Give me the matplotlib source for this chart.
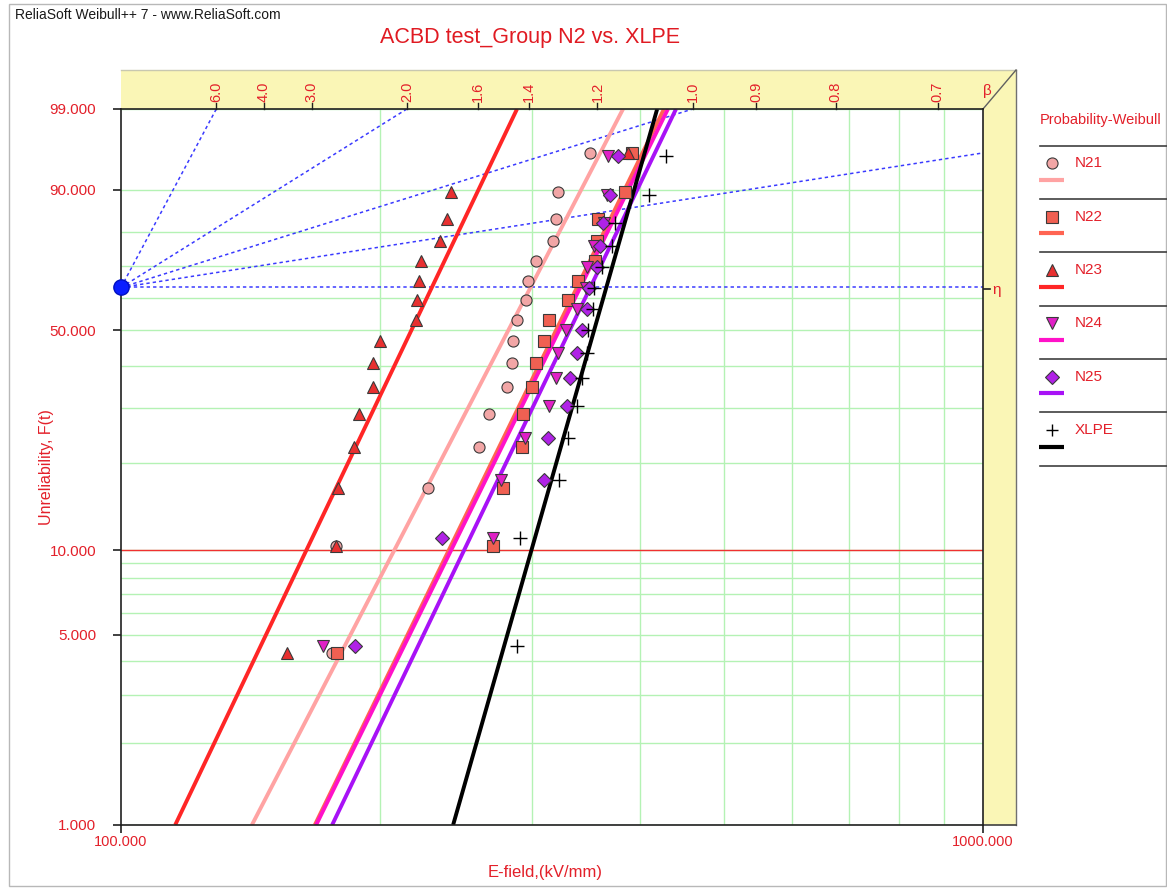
import numpy as np
import matplotlib
matplotlib.use("Agg")
import matplotlib.pyplot as plt
import matplotlib.transforms as mtransforms
from matplotlib.patches import Polygon, Rectangle
from matplotlib.ticker import FixedLocator, NullLocator

plt.rcParams['font.family'] = ['Liberation Sans', 'DejaVu Sans']

# ---- data: breakdown fields (kV/mm), sorted, per group ----
series_names = ['N21', 'N22', 'N23', 'N24', 'N25', 'XLPE']
sample_sizes = [16, 16, 16, 15, 15, 15]

n21_field = [175.6, 177.6, 227.2, 260.4, 267.5, 280.2, 284.4, 285.2, 287.8,
             295.1, 296.4, 303.1, 317.3, 319.6, 321.6, 349.9]
n22_field = [178.2, 269.9, 277.2, 292.1, 292.9, 299.6, 302.8, 309.8, 313.7,
             330.3, 339.3, 354.7, 356.3, 357.8, 384.3, 391.3]
n23_field = [155.7, 177.6, 178.7, 186.4, 189.0, 195.9, 195.9, 199.7, 219.7,
             220.7, 221.5, 222.9, 234.5, 238.7, 241.5, 387.5]
n24_field = [171.7, 269.9, 275.7, 294.3, 314.0, 319.6, 321.6, 328.3, 337.9,
             346.0, 347.0, 354.1, 363.4, 366.6, 367.6]
n25_field = [186.9, 235.5, 309.8, 313.1, 328.9, 331.8, 337.9, 342.4, 347.5,
             349.0, 356.3, 359.5, 362.7, 369.3, 377.6]
xlpe_field = [287.8, 290.4, 322.5, 330.3, 337.9, 342.4, 347.0, 348.4, 353.1,
              354.0, 361.2, 370.9, 374.2, 410.2, 428.9]

# fitted 2-parameter Weibull parameters
betas = [6.18, 6.57, 6.71, 6.52, 6.67, 11.24]
etas = [298.6, 338.0, 229.4, 341.0, 350.3, 365.6]

beta_scale_ticks = [6.0, 4.0, 3.0, 2.0, 1.6, 1.4, 1.2, 1.0, 0.9, 0.8, 0.7]
beta_guides = [6.0, 2.0, 1.0, 0.5, 0.0]
y_tick_values = [1, 5, 10, 50, 90, 99]
x_tick_values = [100, 1000]
y_grid_values = [1, 2, 3, 4, 5, 6, 7, 8, 9, 10, 20, 30, 40, 50, 60, 70, 80, 90, 99]
x_grid_values = [200, 300, 400, 500, 600, 700, 800, 900]

all_fields = [n21_field, n22_field, n23_field, n24_field, n25_field, xlpe_field]

# ---- styles ----
line_colors = ['#FFA3A3', '#FF6452', '#FF2626', '#FF12C8', '#A812F6', '#000000']
marker_fill = ['#F2A6A6', '#F06052', '#E83030', '#E020C6', '#B022E6', '#000000']
marker_kind = ['o', 's', '^', 'v', 'D', '+']
marker_size = [8, 8, 9, 9, 7, 10]
RED = '#E3202A'

W, H = 1167, 888


def fx(x):
    return x / W


def fy(y):
    return 1 - y / H


def weib_fwd(p):
    p = np.clip(np.asarray(p, dtype=float), 1e-6, 100 - 1e-6)
    return np.log(-np.log(1 - p / 100.0))


def weib_inv(w):
    w = np.asarray(w, dtype=float)
    return 100.0 * (1 - np.exp(-np.exp(w)))


fig = plt.figure(figsize=(W / 100, H / 100), dpi=100)
fig.patch.set_facecolor('white')

# background layer in pixel coordinates for the frame decorations
bg = fig.add_axes([0, 0, 1, 1], zorder=-1)
bg.set_xlim(0, W)
bg.set_ylim(H, 0)
bg.axis('off')

yellow = '#FAF6B6'
bg.add_patch(Polygon([(121, 109), (121, 70), (1016, 70), (983, 109)], closed=True,
                     facecolor=yellow, edgecolor='none'))
bg.add_patch(Polygon([(983, 109), (1016, 70), (1016, 825), (983, 825)], closed=True,
                     facecolor=yellow, edgecolor='none'))
bg.plot([121, 1016], [70, 70], color='#C8C8B0', lw=1)
bg.plot([1016, 1016], [70, 825], color='#707070', lw=1)
bg.plot([983, 1016], [109, 70], color='#606060', lw=1)
bg.plot([983, 1016], [825, 825], color='#404040', lw=1.2)
bg.add_patch(Rectangle((9, 4), 1157, 882, facecolor='none', edgecolor='#B8B8B8', lw=1))

# ---- main probability plot ----
ax = fig.add_axes([fx(121), fy(825), (983 - 121) / W, (825 - 109) / H])
ax.set_xscale('log')
ax.set_yscale('function', functions=(weib_fwd, weib_inv))
ax.set_xlim(100, 1000)
ax.set_ylim(1, 99)

for v in y_grid_values:
    ax.axhline(v, color='#B4F2B4', lw=1, zorder=0.5)
for v in x_grid_values:
    ax.axvline(v, color='#B4F2B4', lw=1, zorder=0.5)
ax.axhline(10, color='#F03030', lw=1, zorder=1)

# beta estimation guides from the eta pivot (x = left edge, F = 63.2 %)
x_left = x_tick_values[0]
xs = np.logspace(np.log10(x_tick_values[0]), np.log10(x_tick_values[1]), 400)
for b in beta_guides:
    F = 100 * (1 - np.exp(-(xs / x_left) ** b))
    ax.plot(xs, F, color='#3A3AFF', lw=1.1, linestyle=(0, (2.2, 2.0)), zorder=1.5)
ax.plot([x_left], [100 * (1 - np.exp(-1))], 'o', ms=11, mfc='#0A1EFF', mec='#0010C0',
        clip_on=False, zorder=6)

# fitted Weibull lines
Fs = np.array([1.0, 99.0])
draw_order = [0, 2, 1, 3, 4, 5]
for k in draw_order:
    xl = etas[k] * (-np.log(1 - Fs / 100.0)) ** (1.0 / betas[k])
    ax.plot(xl, Fs, color=line_colors[k], lw=2.8, zorder=2, solid_capstyle='butt')

# data points at median ranks
for k in range(len(series_names)):
    vals = np.array(all_fields[k])
    i = np.arange(1, len(vals) + 1)
    F = (i - 0.3) / (sample_sizes[k] + 0.4) * 100
    if marker_kind[k] == '+':
        ax.plot(vals, F, linestyle='none', marker='+', ms=marker_size[k], mew=1.0,
                color='#000000', zorder=3)
    else:
        ax.plot(vals, F, linestyle='none', marker=marker_kind[k], ms=marker_size[k],
                mfc=marker_fill[k], mec='#3A3A3A', mew=0.8, zorder=3)

# axes styling
for s in ax.spines.values():
    s.set_color('#202020')
    s.set_linewidth(1.2)
ax.yaxis.set_major_locator(FixedLocator(y_tick_values))
ax.yaxis.set_minor_locator(NullLocator())
ax.set_yticklabels([f'{v:.3f}' for v in y_tick_values])
ax.xaxis.set_major_locator(FixedLocator(x_tick_values))
ax.xaxis.set_minor_locator(NullLocator())
ax.set_xticklabels([f'{v:.3f}' for v in x_tick_values])
ax.tick_params(axis='y', direction='out', length=6, width=1.2, color='#202020',
               labelcolor=RED, labelsize=11, pad=12)
ax.tick_params(axis='x', direction='out', length=6, width=1.2, color='#202020',
               labelcolor=RED, labelsize=10.5, pad=1)

# beta scale along the top edge
btrans = mtransforms.blended_transform_factory(ax.transData, ax.transAxes)
w_top = weib_fwd(99.0)
for b in beta_scale_ticks:
    xb = x_left * np.exp(w_top / b)
    ax.plot([xb, xb], [1.0, 1.0085], color='#202020', lw=1, transform=btrans,
            clip_on=False)
    ax.text(xb, 1.0095, f'{b:.1f}', rotation=90, ha='center', va='bottom',
            color=RED, fontsize=10.5, transform=btrans, clip_on=False)

# ---- texts around the plot ----
fig.text(fx(15), fy(15), 'ReliaSoft Weibull++ 7 - www.ReliaSoft.com', fontsize=10,
         color='#1A1A1A', ha='left', va='center')
fig.text(fx(530), fy(37), 'ACBD test_Group N2 vs. XLPE', fontsize=15.5, color='#E01A22',
         ha='center', va='center')
fig.text(fx(47), fy(467), 'Unreliability, F(t)', fontsize=11.5, color=RED,
         rotation=90, ha='center', va='center')
fig.text(fx(545), fy(872), 'E-field,(kV/mm)', fontsize=12, color=RED,
         ha='center', va='center')
fig.text(fx(987), fy(91), 'β', fontsize=11, color=RED, ha='center', va='center')
bg.plot([983, 990], [289, 289], color='#202020', lw=1.2)
fig.text(fx(997), fy(290), 'η', fontsize=11, color=RED, ha='center', va='center')

# ---- legend panel ----
fig.text(fx(1040), fy(120), 'Probability-Weibull', fontsize=10.5, color=RED,
         ha='left', va='center')
sep_y0, step = 145.7, 53.33
for j in range(len(series_names) + 1):
    yy = sep_y0 + j * step
    bg.plot([1040, 1167], [yy, yy], color='#404040', lw=1.2)
for k, name in enumerate(series_names):
    ym = sep_y0 + 17.6 + k * step
    yl = sep_y0 + 34.3 + k * step
    if marker_kind[k] == '+':
        bg.plot([1052], [ym], marker='+', ms=9, mew=1.0, color='#000000')
    else:
        bg.plot([1052], [ym], marker=marker_kind[k], ms=marker_size[k],
                mfc=marker_fill[k], mec='#3A3A3A', mew=0.8)
    bg.plot([1039, 1064], [yl, yl], color=line_colors[k], lw=3, solid_capstyle='butt')
    fig.text(fx(1075), fy(ym), name, fontsize=11, color=RED, ha='left', va='center')

fig.savefig('out.png', dpi=100, facecolor='white')
